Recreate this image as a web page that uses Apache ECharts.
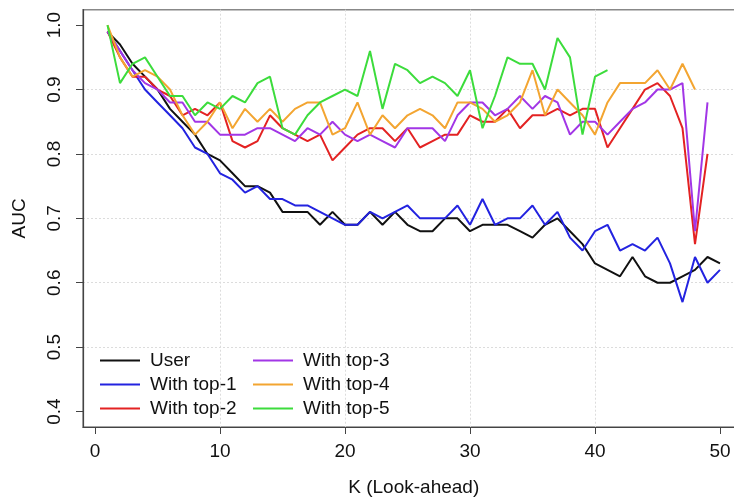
<!DOCTYPE html>
<html>
<head>
<meta charset="utf-8">
<script src="https://cdn.jsdelivr.net/npm/echarts@6/dist/echarts.min.js"></script>
<style>
  html, body { margin: 0; padding: 0; background: #fff; }
  #chart { width: 734px; height: 499px; }
</style>
</head>
<body>
<div id="chart"></div>
<script>
// Look-ahead K values
const K = [1, 2, 3, 4, 5, 6, 7, 8, 9, 10, 11, 12, 13, 14, 15, 16, 17, 18, 19, 20,
  21, 22, 23, 24, 25, 26, 27, 28, 29, 30, 31, 32, 33, 34, 35, 36, 37, 38, 39, 40,
  41, 42, 43, 44, 45, 46, 47, 48, 49, 50];

// AUC per model
const aucUser = [0.99, 0.97, 0.94, 0.92, 0.90, 0.87, 0.85, 0.83, 0.80, 0.79,
  0.77, 0.75, 0.75, 0.74, 0.71, 0.71, 0.71, 0.69, 0.71, 0.69,
  0.69, 0.71, 0.69, 0.71, 0.69, 0.68, 0.68, 0.70, 0.70, 0.68,
  0.69, 0.69, 0.69, 0.68, 0.67, 0.69, 0.70, 0.68, 0.66, 0.63,
  0.62, 0.61, 0.64, 0.61, 0.60, 0.60, 0.61, 0.62, 0.64, 0.63];
const aucTop1 = [0.99, 0.96, 0.93, 0.90, 0.88, 0.86, 0.84, 0.81, 0.80, 0.77,
  0.76, 0.74, 0.75, 0.73, 0.73, 0.72, 0.72, 0.71, 0.70, 0.69,
  0.69, 0.71, 0.70, 0.71, 0.72, 0.70, 0.70, 0.70, 0.72, 0.69,
  0.73, 0.69, 0.70, 0.70, 0.72, 0.69, 0.71, 0.67, 0.65, 0.68,
  0.69, 0.65, 0.66, 0.65, 0.67, 0.63, 0.57, 0.64, 0.60, 0.62];
const aucTop2 = [0.99, 0.95, 0.92, 0.92, 0.90, 0.89, 0.86, 0.87, 0.86, 0.88,
  0.82, 0.81, 0.82, 0.86, 0.84, 0.83, 0.82, 0.83, 0.79, 0.81,
  0.83, 0.84, 0.84, 0.82, 0.84, 0.81, 0.82, 0.83, 0.83, 0.86,
  0.85, 0.85, 0.87, 0.84, 0.86, 0.86, 0.87, 0.86, 0.87, 0.87,
  0.81, 0.84, 0.87, 0.90, 0.91, 0.89, 0.84, 0.66, 0.80];
const aucTop3 = [0.99, 0.96, 0.93, 0.91, 0.90, 0.88, 0.88, 0.85, 0.85, 0.83,
  0.83, 0.83, 0.84, 0.84, 0.83, 0.82, 0.84, 0.83, 0.85, 0.83,
  0.82, 0.83, 0.82, 0.81, 0.84, 0.84, 0.84, 0.82, 0.86, 0.88,
  0.88, 0.86, 0.87, 0.89, 0.87, 0.89, 0.88, 0.83, 0.85, 0.85,
  0.83, 0.85, 0.87, 0.88, 0.90, 0.90, 0.91, 0.68, 0.88];
const aucTop4 = [1.00, 0.95, 0.92, 0.93, 0.92, 0.90, 0.86, 0.83, 0.85, 0.88,
  0.84, 0.87, 0.85, 0.87, 0.85, 0.87, 0.88, 0.88, 0.83, 0.84,
  0.88, 0.83, 0.86, 0.84, 0.86, 0.87, 0.86, 0.84, 0.88, 0.88,
  0.87, 0.85, 0.86, 0.88, 0.93, 0.86, 0.90, 0.88, 0.86, 0.83,
  0.88, 0.91, 0.91, 0.91, 0.93, 0.90, 0.94, 0.90];
const aucTop5 = [1.00, 0.91, 0.94, 0.95, 0.92, 0.89, 0.89, 0.86, 0.88, 0.87,
  0.89, 0.88, 0.91, 0.92, 0.84, 0.83, 0.86, 0.88, 0.89, 0.90,
  0.89, 0.96, 0.87, 0.94, 0.93, 0.91, 0.92, 0.91, 0.89, 0.93,
  0.84, 0.89, 0.95, 0.94, 0.94, 0.90, 0.98, 0.95, 0.83, 0.92,
  0.93];

const xTicks = [0, 10, 20, 30, 40, 50];
const yTicks = [0.4, 0.5, 0.6, 0.7, 0.8, 0.9, 1.0];

const seriesDefs = [
  { name: 'User',       values: aucUser, color: '#111111' },
  { name: 'With top-1', values: aucTop1, color: '#2323e0' },
  { name: 'With top-2', values: aucTop2, color: '#e32222' },
  { name: 'With top-3', values: aucTop3, color: '#a236e6' },
  { name: 'With top-4', values: aucTop4, color: '#f3a531' },
  { name: 'With top-5', values: aucTop5, color: '#3cdc3c' }
];

const FONT = "'Liberation Sans', Arial, Helvetica, sans-serif";
const FS = 19;

const chart = echarts.init(document.getElementById('chart'), null, { renderer: 'canvas' });

// plain line sample as legend key
const LINE_ICON = 'path://M0,0H40V2H0Z';

const legendCommon = {
  orient: 'vertical',
  top: 346,
  icon: LINE_ICON,
  itemWidth: 40,
  itemHeight: 14,
  itemGap: 5,
  textStyle: {
    fontFamily: FONT, fontSize: FS, color: '#111', lineHeight: 18.5,
    padding: [0, 0, 0, 5]
  }
};

chart.setOption({
  animation: false,
  backgroundColor: '#ffffff',
  grid: {
    left: 83, top: 9.7, width: 661.5, height: 417.3,
    show: true, borderColor: '#888', borderWidth: 1.5,
    outerBoundsMode: 'none'
  },
  legend: [
    Object.assign({}, legendCommon, {
      left: 95,
      data: ['User', 'With top-1', 'With top-2']
    }),
    Object.assign({}, legendCommon, {
      left: 248,
      data: ['With top-3', 'With top-4', 'With top-5']
    })
  ],
  xAxis: {
    type: 'value',
    min: -0.96, max: 51.96,
    name: 'K (Look-ahead)',
    nameLocation: 'middle',
    nameGap: 51,
    nameTextStyle: { fontFamily: FONT, fontSize: FS, color: '#111' },
    axisLine: { show: true, onZero: false, lineStyle: { color: '#444', width: 1.2 } },
    axisTick: { show: true, length: 7, customValues: xTicks, lineStyle: { color: '#444' } },
    axisLabel: { customValues: xTicks, margin: 15, fontFamily: FONT, fontSize: FS, color: '#111' },
    splitLine: {
      show: true, showMinLine: false, showMaxLine: false,
      lineStyle: { color: '#dcdcdc', type: [2, 2], width: 1 }
    }
  },
  yAxis: {
    type: 'value',
    min: 0.376, max: 1.024,
    name: 'AUC',
    nameLocation: 'middle',
    nameGap: 54,
    nameTextStyle: { fontFamily: FONT, fontSize: FS, color: '#111' },
    axisLine: { show: true, onZero: false, lineStyle: { color: '#444', width: 1.2 } },
    axisTick: { show: true, length: 7, customValues: yTicks, lineStyle: { color: '#444' } },
    axisLabel: {
      customValues: yTicks, rotate: 90, margin: 19,
      fontFamily: FONT, fontSize: FS, color: '#111',
      formatter: v => v.toFixed(1)
    },
    splitLine: {
      show: true, showMinLine: false, showMaxLine: false,
      lineStyle: { color: '#dcdcdc', type: [2, 2], width: 1 }
    }
  },
  series: seriesDefs.map(s => ({
    name: s.name,
    type: 'line',
    symbol: 'none',
    color: s.color,
    lineStyle: { color: s.color, width: 2 },
    data: s.values.map((v, i) => [K[i], v])
  }))
});
</script>
</body>
</html>
